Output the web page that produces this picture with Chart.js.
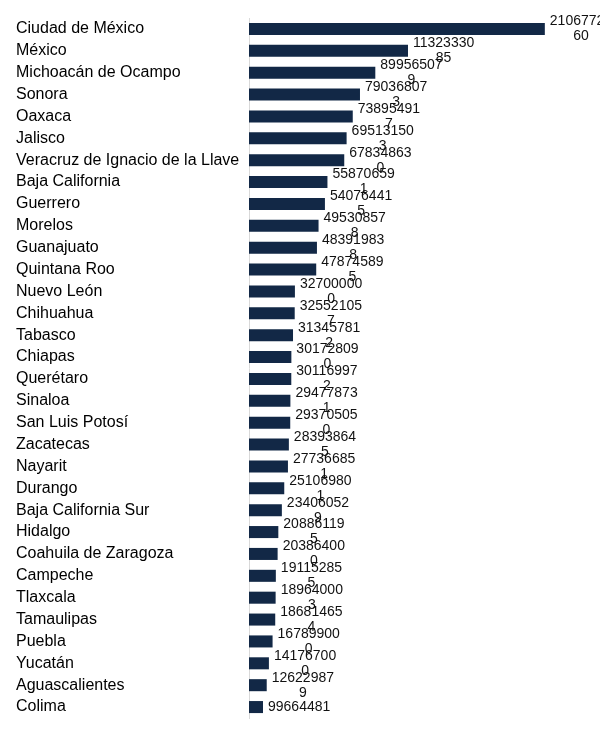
<!DOCTYPE html>
<html>
<head>
<meta charset="utf-8">
<script src="https://cdn.jsdelivr.net/npm/chart.js@4"></script>
<style>
  html, body { margin: 0; padding: 0; background: #fff; }
  #wrap { width: 600px; height: 734px; position: relative; }
</style>
</head>
<body>
<div id="wrap"><canvas id="states_chart"></canvas></div>
<script>
const states = [
    'Ciudad de México', 'México', 'Michoacán de Ocampo', 'Sonora', 'Oaxaca', 'Jalisco',
    'Veracruz de Ignacio de la Llave', 'Baja California', 'Guerrero', 'Morelos', 'Guanajuato',
    'Quintana Roo', 'Nuevo León', 'Chihuahua', 'Tabasco', 'Chiapas', 'Querétaro', 'Sinaloa',
    'San Luis Potosí', 'Zacatecas', 'Nayarit', 'Durango', 'Baja California Sur', 'Hidalgo',
    'Coahuila de Zaragoza', 'Campeche', 'Tlaxcala', 'Tamaulipas', 'Puebla', 'Yucatán',
    'Aguascalientes', 'Colima'
];
const totals = [
    2106772160, 1132333085, 899565079, 790368073, 738954917, 695131503,
    678348630, 558706591, 540764415, 495308578, 483919838,
    478745895, 327000000, 325521057, 313457812, 301728090, 301169972, 294778731,
    293705050, 283938645, 277366851, 251069801, 234060529, 208861195,
    203864000, 191152855, 189640003, 186814654, 167899000, 141767000,
    126229879, 99664481
];
const x_max = 2400000000;

// draws the value next to each bar, wrapped every 8 digits
const valueLabels = {
    id: 'valueLabels',
    afterDatasetsDraw(chart){
        const ctx = chart.ctx;
        const meta = chart.getDatasetMeta(0);
        ctx.save();
        ctx.font = '14px "Liberation Sans", Arial, sans-serif';
        ctx.fillStyle = '#111';
        ctx.textAlign = 'center';
        ctx.textBaseline = 'middle';
        meta.data.forEach((bar, i) => {
            const txt = String(totals[i]);
            const lines = [];
            for(let k = 0; k < txt.length; k += 8){
                lines.push(txt.slice(k, k + 8));
            }
            const w = ctx.measureText(lines[0]).width;
            const cx = bar.x + 5 + w / 2;
            const lh = 15;
            const y0 = bar.y - (lines.length - 1) * lh / 2;
            lines.forEach((ln, j) => ctx.fillText(ln, cx, y0 + j * lh));
        });
        ctx.restore();
    }
};

const ctx = document.getElementById('states_chart').getContext('2d');
new Chart(ctx, {
    type: 'bar',
    data: {
        labels: states,
        datasets: [{
            data: totals,
            backgroundColor: '#122846',
            barPercentage: 0.55,
            categoryPercentage: 1.0
        }]
    },
    options: {
        indexAxis: 'y',
        responsive: true,
        maintainAspectRatio: false,
        animation: false,
        layout: { padding: { left: 16, right: 14, top: 18, bottom: 16 } },
        plugins: {
            legend: { display: false },
            tooltip: { enabled: false }
        },
        scales: {
            x: {
                display: false,
                min: 0,
                max: x_max
            },
            y: {
                grid: { display: false, drawTicks: false },
                border: { display: true, color: '#d9d9d9', width: 1 },
                ticks: {
                    crossAlign: 'far',
                    color: '#000',
                    autoSkip: false,
                    padding: 0,
                    font: { family: '"Liberation Sans", Arial, sans-serif', size: 16 }
                },
                afterFit(scale){ scale.width = 233; }
            }
        }
    },
    plugins: [valueLabels]
});
</script>
</body>
</html>
